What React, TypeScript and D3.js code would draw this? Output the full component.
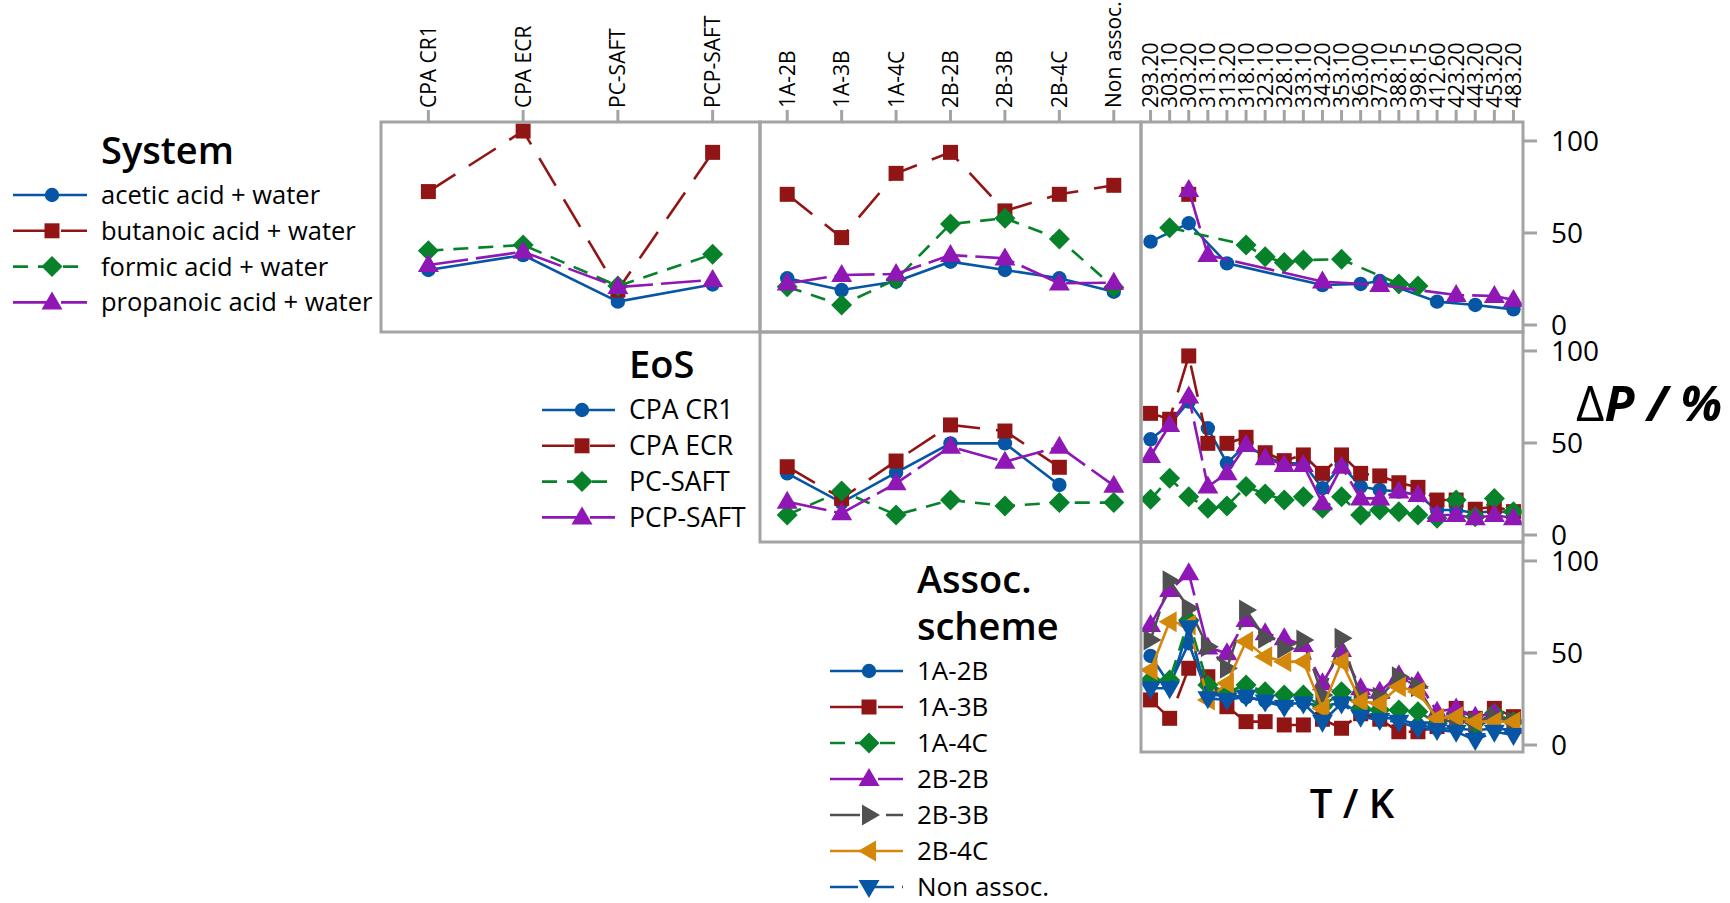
import React from "react";
import * as d3 from "d3";

// ---- factor levels ----
const systemLevels = [
  "acetic acid + water",
  "butanoic acid + water",
  "formic acid + water",
  "propanoic acid + water",
];
const eosLevels = ["CPA CR1", "CPA ECR", "PC-SAFT", "PCP-SAFT"];
const assocLevels = ["1A-2B", "1A-3B", "1A-4C", "2B-2B", "2B-3B", "2B-4C", "Non assoc."];
const tempLevels = [
  "293.20", "303.10", "303.20", "313.10", "313.20", "318.10", "323.10", "328.10",
  "333.10", "343.20", "353.10", "363.00", "373.10", "388.15", "398.15", "412.60",
  "423.20", "443.20", "453.20", "483.20",
];
const yTicks = [0, 50, 100];

// ---- mean ΔP / % by System ----
const aceticByEos = [29.9, 38.0, 12.7, 22.0];
const butanoicByEos = [72.5, 105.4, 19.0, 93.8];
const formicByEos = [40.4, 43.5, 21.2, 38.4];
const propanoicByEos = [32.6, 39.8, 20.6, 24.5];

const aceticByAssoc = [25.4, 19.0, 23.6, 34.4, 29.9, 25.4, 18.1];
const butanoicByAssoc = [71.0, 47.5, 82.4, 93.8, 62.0, 71.0, 75.9];
const formicByAssoc = [20.8, 10.9, 24.8, 54.9, 58.0, 46.7, 20.5];
const propanoicByAssoc = [22.6, 27.2, 27.7, 38.0, 36.2, 22.6, 23.0];

const N = null;
const aceticByT = [45.3, N, 55.3, N, 33.5, N, N, N, N, 21.7, N, 22.3, 23.9, N, N, 12.7, N, 10.9, N, 8.5];
const butanoicByT = [N, N, 71.0, N, N, N, N, N, N, N, N, N, N, N, N, N, N, N, N, N];
const formicByT = [N, 52.9, N, N, N, 43.5, 37.1, 33.9, 35.3, N, 35.7, N, N, 22.3, 21.2, N, N, N, N, N];
const propanoicByT = [N, N, 73.4, 38.0, N, N, N, N, N, 23.6, N, N, 21.7, N, N, N, 16.3, N, 15.8, 13.6];

// ---- mean ΔP / % by EoS ----
const cr1ByAssoc = [33.5, 17.6, 33.9, 49.8, 49.8, 27.2, N];
const ecrByAssoc = [37.1, 19.9, 40.2, 59.8, 56.5, 36.8, N];
const pcSaftByAssoc = [10.9, 23.9, 10.9, 19.0, 15.8, 17.6, 17.6];
const pcpSaftByAssoc = [18.1, 11.8, 28.1, 48.0, 39.8, 48.0, 26.8];

const cr1ByT = [52.0, 60.0, 72.5, 58.0, 39.0, 49.0, 42.6, 39.0, 39.0, 25.4, 38.0, 26.3, 24.5, 23.6, 21.7, 13.6, 13.6, 12.0, 13.0, 12.0];
const ecrByT = [66.1, 62.9, 97.3, 49.8, 49.8, 53.1, 44.7, 40.4, 43.5, 33.5, 43.5, 33.5, 32.1, 28.4, 25.9, 19.0, 19.0, 14.0, 15.4, 12.7];
const pcSaftByT = [19.4, 30.8, 20.8, 14.5, 15.8, 26.3, 22.3, 19.0, 20.8, 14.5, 20.8, 10.9, 13.6, 12.7, 10.9, 9.1, 19.0, 9.9, 19.9, 12.7];
const pcpSaftByT = [42.9, 59.8, 75.2, 26.3, 33.5, 48.9, 41.7, 38.0, 38.0, 17.2, 37.1, 19.9, 19.9, 23.6, 21.7, 10.9, 10.9, 9.1, 10.9, 9.1];

// ---- mean ΔP / % by association scheme ----
const s1A2BByT = [48.4, 33.0, 55.3, 27.0, 27.0, 26.0, 24.0, 22.0, 23.0, 21.0, 23.0, 17.0, 15.0, 14.0, 11.0, 9.0, 9.0, 8.0, 9.0, 8.0];
const s1A3BByT = [24.5, 14.5, 41.7, 37.1, 20.8, 12.7, 12.7, 10.9, 10.9, 14.0, 9.1, 17.0, 14.0, 7.2, 7.2, 10.0, 19.9, 14.5, 19.9, 15.4];
const s1A4CByT = [35.3, 35.3, 67.9, 32.6, 28.9, 32.6, 28.9, 27.2, 27.2, 20.8, 28.9, 20.0, 19.0, 19.0, 18.1, 12.0, 17.2, 12.0, 17.2, 12.7];
const s2B2BByT = [65.2, 84.2, 93.3, 53.0, 49.8, 67.9, 60.7, 58.0, 54.3, 33.5, 51.6, 30.8, 28.9, 37.9, 34.4, 18.1, 19.9, 15.4, 17.2, 9.9];
const s2B3BByT = [57.1, 89.3, 74.3, 53.4, 41.7, 73.4, 58.0, 52.5, 57.1, 27.2, 58.0, 25.9, 25.9, 37.1, 31.7, 13.6, 12.7, 12.7, 15.4, 12.7];
const s2B4CByT = [40.8, 67.0, 65.2, 24.5, 33.5, 56.2, 48.0, 45.3, 45.3, 19.9, 45.3, 23.6, 22.6, 31.7, 28.9, 14.5, 15.4, 12.7, 12.7, 12.7];
const nonAssocByT = [30.8, 30.8, 64.0, 25.4, 24.5, 26.3, 23.6, 20.8, 22.6, 12.7, 22.6, 15.4, 13.6, 12.7, 9.1, 8.2, 7.2, 2.7, 7.2, 5.4];

// ---- drawing styles ----
const FONT = "'Open Sans', 'Noto Sans', sans-serif";
const FRAME = "#a3a3a3";

type Shape = "circle" | "square" | "diamond" | "up" | "right" | "left" | "down";
type Style = { color: string; dash: string | null; shape: Shape };

const STYLES: Style[] = [
  { color: "#0656a5", dash: null, shape: "circle" },
  { color: "#921515", dash: "32,16", shape: "square" },
  { color: "#07822a", dash: "15,10", shape: "diamond" },
  { color: "#8e17b5", dash: "40,8", shape: "up" },
  { color: "#505050", dash: "30,10,6,10", shape: "right" },
  { color: "#d4880b", dash: null, shape: "left" },
  { color: "#0656a5", dash: "28,8", shape: "down" },
];

const markerPath: Record<Shape, string> = {
  circle: d3.symbol(d3.symbolCircle, Math.PI * 7.2 * 7.2)() as string,
  square: "M-7.5,-7.5H7.5V7.5H-7.5Z",
  diamond: "M0,-10.5L10.5,0L0,10.5L-10.5,0Z",
  up: "M0,-11L10.5,7L-10.5,7Z",
  down: "M0,11L10.5,-7L-10.5,-7Z",
  right: "M11,0L-7,-10.5L-7,10.5Z",
  left: "M-11,0L7,-10.5L7,10.5Z",
};

// ---- grid layout ----
const colX = [381, 760, 1141, 1523];
const rowY = [122, 332, 542, 752];
const yDomain: [number, number] = [-3.8, 110.3];

type PanelDef = {
  row: number;
  col: number;
  levels: string[];
  series: (number | null)[][];
};

const panels: PanelDef[] = [
  { row: 0, col: 0, levels: eosLevels, series: [aceticByEos, butanoicByEos, formicByEos, propanoicByEos] },
  { row: 0, col: 1, levels: assocLevels, series: [aceticByAssoc, butanoicByAssoc, formicByAssoc, propanoicByAssoc] },
  { row: 0, col: 2, levels: tempLevels, series: [aceticByT, butanoicByT, formicByT, propanoicByT] },
  { row: 1, col: 1, levels: assocLevels, series: [cr1ByAssoc, ecrByAssoc, pcSaftByAssoc, pcpSaftByAssoc] },
  { row: 1, col: 2, levels: tempLevels, series: [cr1ByT, ecrByT, pcSaftByT, pcpSaftByT] },
  {
    row: 2,
    col: 2,
    levels: tempLevels,
    series: [s1A2BByT, s1A3BByT, s1A4CByT, s2B2BByT, s2B3BByT, s2B4CByT, nonAssocByT],
  },
];

const xScaleFor = (col: number, levels: string[]) =>
  d3.scalePoint<string>().domain(levels).range([colX[col], colX[col + 1]]).padding(0.5);
const yScaleFor = (row: number) =>
  d3.scaleLinear().domain(yDomain).range([rowY[row + 1], rowY[row]]);

function Panel({ def }: { def: PanelDef }) {
  const x = xScaleFor(def.col, def.levels);
  const y = yScaleFor(def.row);
  const line = d3
    .line<{ k: string; v: number }>()
    .x((d) => x(d.k) as number)
    .y((d) => y(d.v));
  return (
    <g>
      {def.series.map((vals, si) => {
        const st = STYLES[si];
        const pts = vals
          .map((v, i) => ({ k: def.levels[i], v }))
          .filter((d) => d.v !== null) as { k: string; v: number }[];
        return (
          <g key={si}>
            <path
              d={line(pts) || ""}
              fill="none"
              stroke={st.color}
              strokeWidth={2.6}
              strokeDasharray={st.dash || undefined}
            />
            {pts.map((p, i) => (
              <path
                key={i}
                d={markerPath[st.shape]}
                transform={`translate(${x(p.k)},${y(p.v)})`}
                fill={st.color}
              />
            ))}
          </g>
        );
      })}
    </g>
  );
}

function TopAxis({ col, levels }: { col: number; levels: string[] }) {
  const x = xScaleFor(col, levels);
  return (
    <g>
      {levels.map((l) => (
        <g key={l}>
          <line x1={x(l)} x2={x(l)} y1={110} y2={rowY[0]} stroke={FRAME} strokeWidth={3} />
          <text
            transform={`translate(${x(l)},108) rotate(-90)`}
            textAnchor="start"
            dy="0.36em"
            fontSize={21}
            fontFamily={FONT}
            fill="#000"
          >
            {l}
          </text>
        </g>
      ))}
    </g>
  );
}

function RightAxis({ row }: { row: number }) {
  const y = yScaleFor(row);
  return (
    <g>
      {yTicks.map((t) => (
        <g key={t}>
          <line x1={colX[3]} x2={colX[3] + 14} y1={y(t)} y2={y(t)} stroke={FRAME} strokeWidth={3} />
          <text x={colX[3] + 28} y={y(t)} dy="0.36em" fontSize={28} fontFamily={FONT} fill="#000">
            {t}
          </text>
        </g>
      ))}
    </g>
  );
}

type LegendDef = {
  title: string[];
  titleX: number;
  titleBaselines: number[];
  labels: string[];
  textX: number;
  firstY: number;
  step: number;
  sx0: number;
  sx1: number;
  mx: number;
  fontSize: number;
};

function Legend({ def }: { def: LegendDef }) {
  return (
    <g fontFamily={FONT}>
      {def.title.map((t, i) => (
        <text key={t} x={def.titleX} y={def.titleBaselines[i]} fontSize={38} fontWeight={600} fill="#000">
          {t}
        </text>
      ))}
      {def.labels.map((lab, i) => {
        const st = STYLES[i];
        const cy = def.firstY + i * def.step;
        return (
          <g key={lab}>
            <line
              x1={def.sx0}
              x2={def.sx1}
              y1={cy}
              y2={cy}
              stroke={st.color}
              strokeWidth={2.6}
              strokeDasharray={st.dash || undefined}
            />
            <path d={markerPath[st.shape]} transform={`translate(${def.mx},${cy})`} fill={st.color} />
            <text x={def.textX} y={cy} dy="0.35em" fontSize={def.fontSize} fill="#000">
              {lab}
            </text>
          </g>
        );
      })}
    </g>
  );
}

const legends: LegendDef[] = [
  {
    title: ["System"],
    titleX: 101,
    titleBaselines: [164],
    labels: systemLevels,
    textX: 101,
    firstY: 195,
    step: 35.8,
    sx0: 13,
    sx1: 87,
    mx: 52,
    fontSize: 25.5,
  },
  {
    title: ["EoS"],
    titleX: 629,
    titleBaselines: [378],
    labels: eosLevels,
    textX: 629,
    firstY: 410,
    step: 35.8,
    sx0: 542,
    sx1: 615,
    mx: 582,
    fontSize: 26.5,
  },
  {
    title: ["Assoc.", "scheme"],
    titleX: 917,
    titleBaselines: [593, 640],
    labels: assocLevels,
    textX: 917,
    firstY: 671,
    step: 36,
    sx0: 830,
    sx1: 903,
    mx: 869,
    fontSize: 26,
  },
];

export default function App() {
  return (
    <svg
      width={1730}
      height={903}
      style={{ position: "absolute", left: 0, top: 0, background: "#fff" }}
    >
      <TopAxis col={0} levels={eosLevels} />
      <TopAxis col={1} levels={assocLevels} />
      <TopAxis col={2} levels={tempLevels} />
      {panels.map((p, i) => (
        <Panel key={i} def={p} />
      ))}
      {panels.map((p, i) => (
        <rect
          key={"f" + i}
          x={colX[p.col]}
          y={rowY[p.row]}
          width={colX[p.col + 1] - colX[p.col]}
          height={rowY[p.row + 1] - rowY[p.row]}
          fill="none"
          stroke={FRAME}
          strokeWidth={3}
        />
      ))}
      {[0, 1, 2].map((r) => (
        <RightAxis key={r} row={r} />
      ))}
      {legends.map((l, i) => (
        <Legend key={i} def={l} />
      ))}
      <text x={1352} y={818} textAnchor="middle" fontSize={40} fontWeight={600} fontFamily={FONT} fill="#000">
        T / K
      </text>
      <text x={1576} y={421} fontSize={49} fontFamily={FONT} fill="#000">
        <tspan fontWeight={400}>Δ</tspan>
        <tspan fontWeight={700} fontStyle="italic">P / %</tspan>
      </text>
    </svg>
  );
}
